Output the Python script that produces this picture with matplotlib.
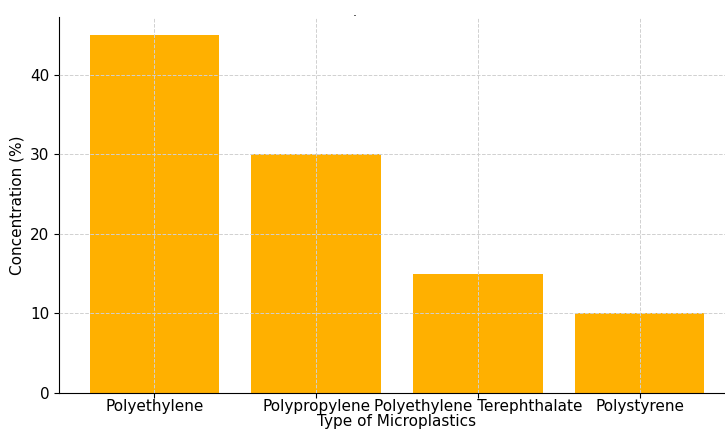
import matplotlib
matplotlib.use("Agg")
import matplotlib.pyplot as plt

plastics = ["Polyethylene", "Polypropylene", "Polyethylene Terephthalate", "Polystyrene"]
concentration = [45, 30, 15, 10]

fig = plt.figure(figsize=(7.25, 4.33), dpi=100)
# axes runs past the right edge like the cropped original
ax = fig.add_axes([59 / 725, 40 / 433, 676 / 725, 376 / 433])

ax.bar(plastics, concentration, width=0.8, color="#FFB000", zorder=2)
ax.set_xlim(-0.59, 3.59)
ax.set_ylim(0, 47.25)
ax.set_yticks([0, 10, 20, 30, 40])

ax.grid(True, linestyle="--", color="#d0d0d0", linewidth=0.7, zorder=3)
ax.set_axisbelow(False)
for s in ["top", "right"]:
    ax.spines[s].set_visible(False)

ax.tick_params(labelsize=11)
ax.tick_params(axis="x", pad=1)
ax.set_xlabel("Type of Microplastics", fontsize=11, labelpad=0)
ax.set_ylabel("Concentration (%)", fontsize=11)
fig.text(355 / 725, 1 - 12 / 433, ".", ha="center", va="center", fontsize=9)

fig.savefig("out.png", dpi=100)
